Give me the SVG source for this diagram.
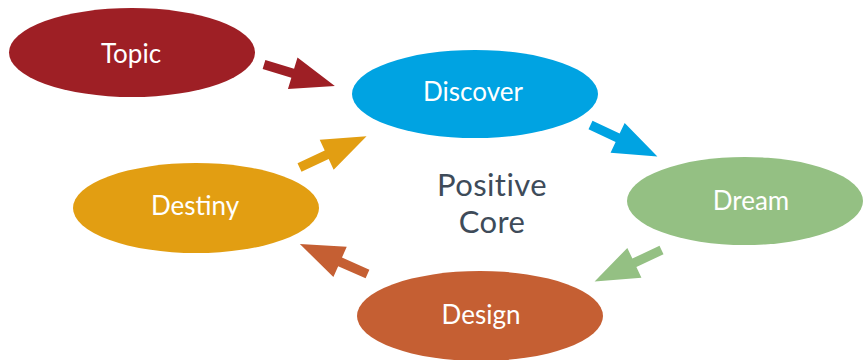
<svg xmlns="http://www.w3.org/2000/svg" width="863" height="360" viewBox="0 0 863 360">
<style>
.lbl{font-family:Lato,"Open Sans","Liberation Sans",sans-serif;font-size:26px;fill:#ffffff;text-anchor:middle}
.core{font-family:Lato,"Open Sans","Liberation Sans",sans-serif;font-size:31px;fill:#3E4B59;text-anchor:middle;letter-spacing:0.4px}
</style>
<defs>
<polygon id="arr" points="0,-4.7 30,-4.7 30,-16.5 74,0 30,16.5 30,4.7 0,4.7"/>
</defs>
<rect width="863" height="360" fill="#ffffff"/>
<g id="connectors">
<use href="#arr" fill="#9E1F25" transform="translate(264,64.5) rotate(16.8)"/>
<use href="#arr" fill="#00A3E2" transform="translate(590.5,125) rotate(25.3)"/>
<use href="#arr" fill="#94C083" transform="translate(661.5,250) rotate(154.7)"/>
<use href="#arr" fill="#C55F33" transform="translate(367.5,274) rotate(203.9)"/>
<use href="#arr" fill="#E29E12" transform="translate(299.5,167.5) rotate(-25)"/>
</g>
<g id="topic"><ellipse cx="132" cy="52.5" rx="123" ry="44.5" fill="#9E1F25"/><text class="lbl" x="131" y="63">Topic</text></g>
<g id="discover"><ellipse cx="475" cy="94" rx="123" ry="44" fill="#00A3E2"/><text class="lbl" x="473" y="101">Discover</text></g>
<g id="dream"><ellipse cx="745" cy="201" rx="118" ry="44" fill="#94C083"/><text class="lbl" x="751" y="210">Dream</text></g>
<g id="destiny"><ellipse cx="196" cy="208" rx="123" ry="45" fill="#E29E12"/><text class="lbl" x="195" y="215">Destiny</text></g>
<g id="design"><ellipse cx="480" cy="316" rx="123" ry="45" fill="#C55F33"/><text class="lbl" x="481" y="324">Design</text></g>
<g id="core"><text class="core" x="492" y="196">Positive</text><text class="core" x="492" y="233">Core</text></g>
</svg>
